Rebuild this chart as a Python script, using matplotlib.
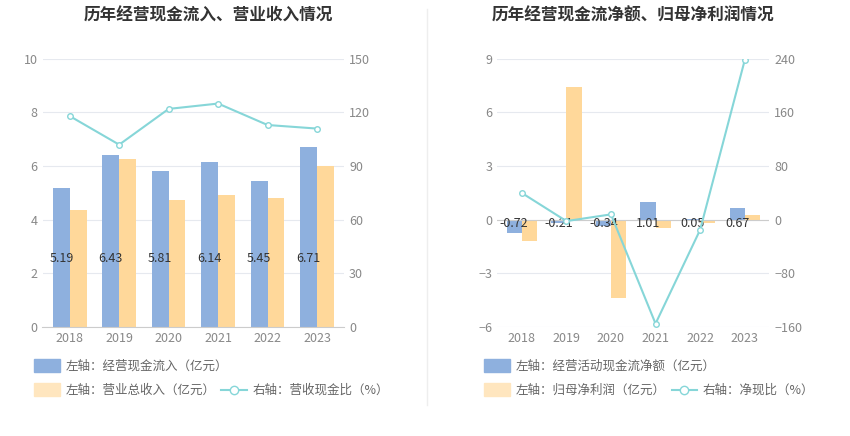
import numpy as np
import matplotlib.pyplot as plt

plt.rcParams['font.family'] = ['Noto Sans CJK SC', 'DejaVu Sans']

years = ['2018', '2019', '2020', '2021', '2022', '2023']
inflow = [5.19, 6.43, 5.81, 6.14, 5.45, 6.71]
revenue = [4.38, 6.28, 4.75, 4.92, 4.82, 6.02]
cash_ratio = [118, 102, 122, 125, 113, 111]

net_cf = [-0.72, -0.21, -0.34, 1.01, 0.05, 0.67]
net_profit = [-1.2, 7.4, -4.4, -0.45, -0.2, 0.25]
net_ratio = [40, -2, 8, -155, -15, 238]

blue = '#8eb0de'
orange = '#ffd89a'
teal = '#86d6d8'
grid = '#e6e9ef'
tc = '#888888'

fig = plt.figure(figsize=(8.5, 4.36), dpi=100)
x = np.arange(len(years))
w = 0.34

def style(ax, ax2):
    for a in (ax, ax2):
        for s in a.spines.values():
            s.set_visible(False)
        a.tick_params(length=0, colors=tc, labelsize=9)
    ax.spines['bottom'].set_visible(True)
    ax.spines['bottom'].set_color('#cccccc')
    ax.grid(axis='y', color=grid, lw=0.8)
    ax.set_axisbelow(True)
    ax.set_xticks(x, years)
    ax.set_xlim(-0.55, 5.55)

# left panel
ax = fig.add_axes([0.05, 0.25, 0.355, 0.615])
ax2 = ax.twinx()
ax.bar(x - w/2, inflow, w, color=blue)
ax.bar(x + w/2, revenue, w, color=orange)
for i, v in enumerate(inflow):
    ax.text(i - w/2, 2.55, f'{v:.2f}', ha='center', va='center', fontsize=9, color='#333333')
ax2.plot(x, cash_ratio, color=teal, lw=1.5, marker='o', ms=4, mfc='white', mec=teal)
ax.set_ylim(0, 10); ax.set_yticks(range(0, 11, 2))
ax2.set_ylim(0, 150); ax2.set_yticks(range(0, 151, 30))
style(ax, ax2)
fig.text(0.245, 0.965, '历年经营现金流入、营业收入情况', ha='center', va='center', fontsize=12, weight='bold', color='#333333')

# right panel
bx = fig.add_axes([0.585, 0.25, 0.32, 0.615])
bx2 = bx.twinx()
bx.bar(x - w/2, net_cf, w, color=blue)
bx.bar(x + w/2, net_profit, w, color=orange)
for i, v in enumerate(net_cf):
    bx.text(i - w/2, -0.2, f'{v:.2f}', ha='center', va='center', fontsize=9, color='#333333')
bx2.plot(x, net_ratio, color=teal, lw=1.5, marker='o', ms=4, mfc='white', mec=teal)
bx.set_ylim(-6, 9); bx.set_yticks(range(-6, 10, 3))
bx2.set_ylim(-160, 240); bx2.set_yticks(range(-160, 241, 80))
style(bx, bx2)
bx.spines['bottom'].set_visible(False)
bx.axhline(0, color='#cccccc', lw=0.8)
fig.text(0.745, 0.965, '历年经营现金流净额、归母净利润情况', ha='center', va='center', fontsize=12, weight='bold', color='#333333')

fig.add_artist(plt.Line2D([0.502, 0.502], [0.07, 0.98], color='#eeeeee', lw=1))

def legend_item(xf, yf, kind, label):
    if kind == 'bar_b' or kind == 'bar_o':
        col = blue if kind == 'bar_b' else '#ffe6bf'
        fig.patches.append(plt.Rectangle((xf, yf - 0.014), 0.03, 0.03, color=col, transform=fig.transFigure))
    else:
        fig.add_artist(plt.Line2D([xf, xf + 0.03], [yf, yf], color=teal, lw=1.5))
        fig.add_artist(plt.Line2D([xf + 0.015], [yf], marker='o', ms=6, mfc='white', mec=teal, color=teal))
    fig.text(xf + 0.037, yf, label, va='center', fontsize=9, color='#666666')

legend_item(0.04, 0.16, 'bar_b', '左轴：经营现金流入（亿元）')
legend_item(0.04, 0.105, 'bar_o', '左轴：营业总收入（亿元）')
legend_item(0.26, 0.105, 'line', '右轴：营收现金比（%）')
legend_item(0.57, 0.16, 'bar_b', '左轴：经营活动现金流净额（亿元）')
legend_item(0.57, 0.105, 'bar_o', '左轴：归母净利润（亿元）')
legend_item(0.79, 0.105, 'line', '右轴：净现比（%）')

fig.savefig('out.png', dpi=100)
